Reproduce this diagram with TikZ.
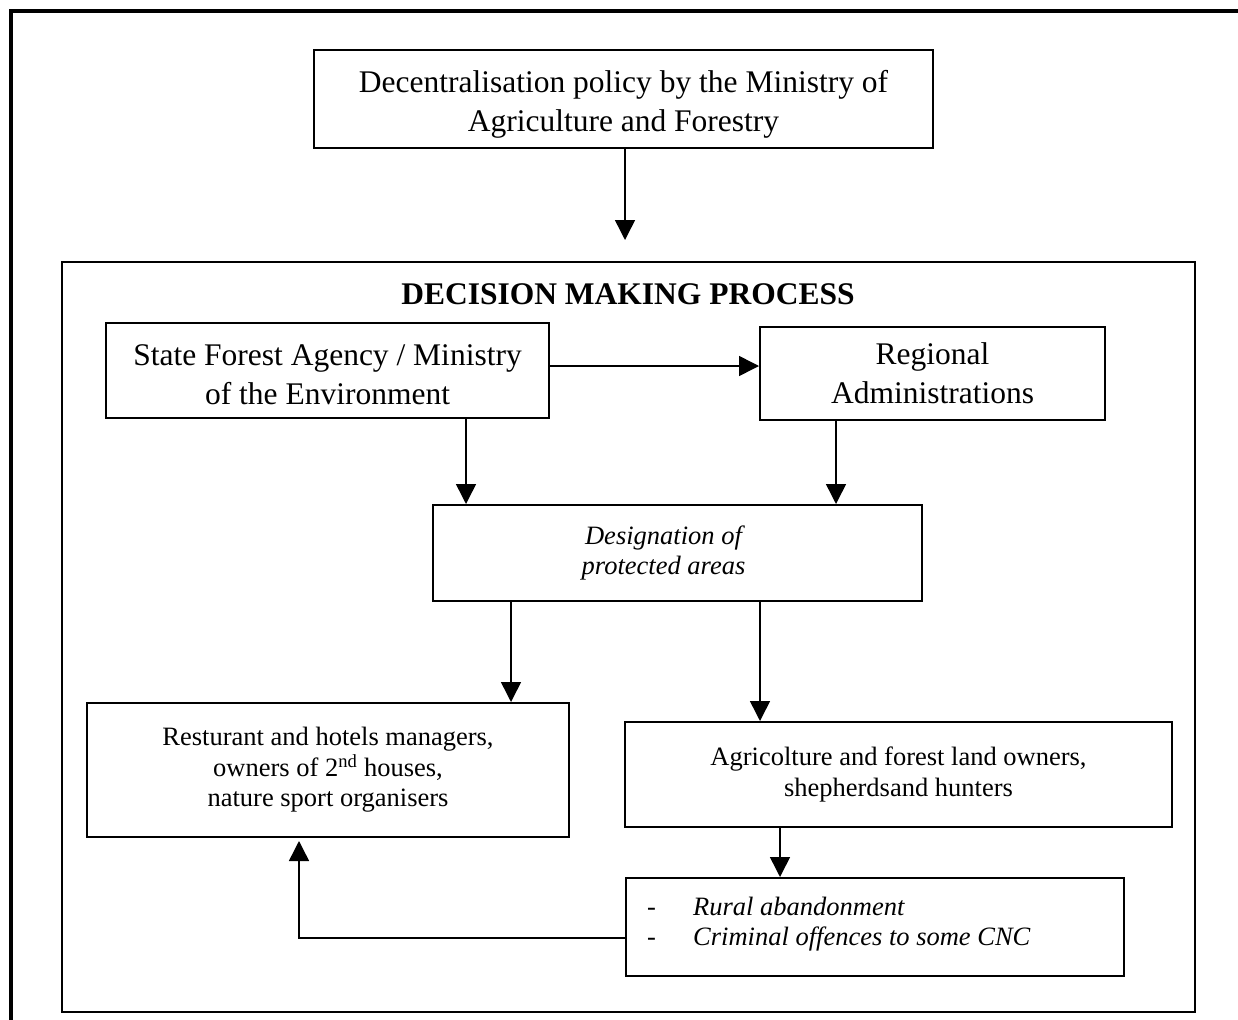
\documentclass[tikz,border=0pt]{standalone}
\usepackage{fontspec}
\setmainfont{Liberation Serif}
\usetikzlibrary{arrows.meta}
\begin{document}
\begin{tikzpicture}[x=1pt,y=-1pt,
  box/.style={draw, line width=2pt, inner sep=0pt, align=center, anchor=center},
  txt/.style={inner sep=0pt, align=center, anchor=center},
  arr/.style={line width=1.5pt, -{Triangle[length=20pt,width=20pt]}},
  bigtxt/.style={font=\fontsize{31.5}{39}\selectfont},
  smalltxt/.style={font=\fontsize{26.5}{30.5}\selectfont}]
\useasboundingbox (0,0) rectangle (1238,1019);
\draw[line width=3.5pt] (11,1030) -- (11,11) -- (1250,11);

\node[box, minimum width=619pt, minimum height=98pt] (top) at (623.5,99) {};
\node[txt, bigtxt] (toptxt) at (623.5,104)
  {Decentralisation policy by the Ministry of\\Agriculture and Forestry};
\node[box, minimum width=1133pt, minimum height=750pt] (dmp) at (628.5,637) {};
\node[font=\bfseries\fontsize{31.5}{37}\selectfont] (title) at (628,294) {DECISION MAKING PROCESS};
\node[box, minimum width=443pt, minimum height=95pt] (state) at (327.5,370.5) {};
\node[txt, bigtxt] (statetxt) at (327.5,374.5)
  {State Forest Agency / Ministry\\of the Environment};
\node[box, bigtxt, minimum width=345pt, minimum height=93pt] (regional) at (932.5,373.5)
  {Regional\\Administrations};
\node[box, smalltxt, minimum width=489pt, minimum height=96pt] (desig) at (677.5,553)
  {\itshape Designation of\hspace*{28pt}\\\itshape protected areas\hspace*{28pt}};
\node[box, smalltxt, minimum width=482pt, minimum height=134pt] (rest) at (328,770)
  {Resturant and hotels managers,\\owners of 2\textsuperscript{nd} houses,\\nature sport organisers};
\node[box, smalltxt, minimum width=547pt, minimum height=105pt] (agri) at (898.5,774.5)
  {Agricolture and forest land owners,\\shepherdsand hunters};
\node[box, minimum width=498pt, minimum height=98pt] (rural) at (875,927) {};
\node[smalltxt, align=left, anchor=west, inner sep=0pt] (ruraltxt) at (647,924)
  {\makebox[46pt][l]{-}\textit{Rural abandonment}\\\makebox[46pt][l]{-}\textit{Criminal offences to some CNC}};

\coordinate (tip0) at (625,240);
\coordinate (ysr) at (0,366);
\coordinate (x1) at (466,0);
\coordinate (x2) at (836,0);
\coordinate (x3) at (511,0);
\coordinate (x4) at (760,0);
\coordinate (x5) at (780,0);
\coordinate (yr) at (0,938);
\coordinate (xr) at (299,0);

\draw[arr] (top.south -| tip0) -- (tip0);
\draw[arr] (state.east |- ysr) -- (regional.west |- ysr);
\draw[arr] (state.south -| x1) -- (desig.north -| x1);
\draw[arr] (regional.south -| x2) -- (desig.north -| x2);
\draw[arr] (desig.south -| x3) -- (rest.north -| x3);
\draw[arr] (desig.south -| x4) -- (agri.north -| x4);
\draw[arr] (agri.south -| x5) -- (rural.north -| x5);
\draw[arr, shorten >=3pt] (rural.west |- yr) -| (rest.south -| xr);
\end{tikzpicture}
\end{document}
